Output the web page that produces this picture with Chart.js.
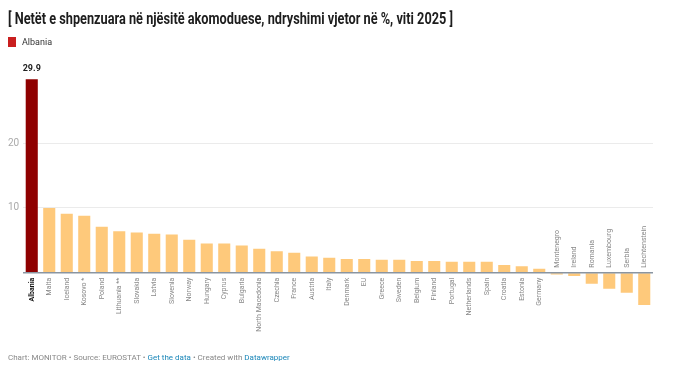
<!DOCTYPE html>
<html>
<head>
<meta charset="utf-8">
<script src="https://cdn.jsdelivr.net/npm/chart.js@4/dist/chart.umd.min.js"></script>
<style>
  html, body { margin: 0; padding: 0; background: #fff; }
  body { width: 675px; height: 376px; position: relative; overflow: hidden; font-family: Roboto, "Noto Sans", sans-serif; }
  #title { position: absolute; left: 8px; top: 8px; font-size: 17px; line-height: 20px; font-weight: 700; color: #1d1d1d; white-space: nowrap; transform-origin: 0 0; }
  #legend { position: absolute; left: 8px; top: 37px; font-size: 9px; color: #333; line-height: 10px; }
  #legend .sw { display: inline-block; width: 8px; height: 10px; background: #c91f1f; vertical-align: top; margin-right: 6px; }
  #footer { position: absolute; left: 8px; top: 353px; font-size: 8px; line-height: 10px; color: #888; white-space: nowrap; }
  #footer a { color: #1a86b8; text-decoration: none; }
  #chart { position: absolute; left: 0; top: 0; }
</style>
</head>
<body>
<canvas id="chart" width="675" height="376"></canvas>
<div id="title">[ Netët e shpenzuara në njësitë akomoduese, ndryshimi vjetor në %, viti 2025 ]</div>
<div id="legend"><span class="sw"></span>Albania</div>
<div id="footer">Chart: MONITOR • Source: EUROSTAT • <a>Get the data</a> • Created with <a>Datawrapper</a></div>
<script>
const categories = ["Albania","Malta","Iceland","Kosovo *","Poland","Lithuania **","Slovakia","Latvia","Slovenia","Norway","Hungary","Cyprus","Bulgaria","North Macedonia","Czechia","France","Austria","Italy","Denmark","EU","Greece","Sweden","Belgium","Finland","Portugal","Netherlands","Spain","Croatia","Estonia","Germany","Montenegro","Ireland","Romania","Luxembourg","Serbia","Liechtenstein"];
const values = [29.9,10.0,9.1,8.8,7.1,6.4,6.2,6.0,5.9,5.1,4.5,4.5,4.2,3.7,3.3,3.1,2.5,2.3,2.1,2.1,2.0,2.0,1.8,1.8,1.7,1.7,1.7,1.2,1.0,0.6,-0.3,-0.5,-1.7,-2.5,-3.1,-5.0];
const highlighted = ["Albania"];
const yTicks = [0, 10, 20];

// fit title width
(function(){
  const t = document.getElementById('title');
  const w = t.getBoundingClientRect().width;
  t.style.transform = 'scaleX(' + (445 / w) + ')';
})();

const labelPlugin = {
  id: 'labels',
  afterDatasetsDraw(chart) {
    const ctx = chart.ctx;
    const x = chart.scales.x, y = chart.scales.y;
    const y0 = y.getPixelForValue(0);
    // baseline
    ctx.save();
    ctx.strokeStyle = '#8a95a1';
    ctx.lineWidth = 1.5;
    ctx.beginPath();
    ctx.moveTo(chart.chartArea.left, y0);
    ctx.lineTo(chart.chartArea.right, y0);
    ctx.stroke();
    ctx.restore();
    categories.forEach((c, i) => {
      const px = x.getPixelForValue(i);
      const hi = highlighted.includes(c);
      const v = values[i];
      ctx.save();
      ctx.translate(px, v >= 0 ? y0 + 5 : y0 - 5);
      ctx.rotate(-Math.PI / 2);
      ctx.textAlign = v >= 0 ? 'right' : 'left';
      ctx.textBaseline = 'middle';
      ctx.font = (hi ? 'bold 7px' : '7px') + ' Roboto, sans-serif';
      ctx.fillStyle = hi ? '#111' : '#888';
      ctx.fillText(c, 0, 0);
      ctx.restore();
      if (hi) {
        ctx.save();
        ctx.font = 'bold 9px Roboto, sans-serif';
        ctx.fillStyle = '#222';
        ctx.textAlign = 'center';
        ctx.textBaseline = 'middle';
        ctx.fillText(v.toFixed(1), px, y.getPixelForValue(v) - 10);
        ctx.restore();
      }
    });
  }
};

new Chart(document.getElementById('chart'), {
  type: 'bar',
  data: {
    labels: categories,
    datasets: [{
      data: values,
      backgroundColor: categories.map(c => highlighted.includes(c) ? '#8f0000' : '#fec97b'),
      borderWidth: 0,
      categoryPercentage: 1,
      barPercentage: 0.69
    }]
  },
  options: {
    responsive: false,
    devicePixelRatio: 1,
    animation: false,
    layout: { padding: { left: 8, right: 22, top: 78.6, bottom: 64.5 } },
    plugins: { legend: { display: false }, tooltip: { enabled: false } },
    scales: {
      x: { display: false },
      y: {
        min: -6, max: 30,
        border: { display: false },
        grid: { color: '#ebebeb', lineWidth: 1, drawTicks: false },
        afterBuildTicks(s) { s.ticks = yTicks.map(v => ({ value: v })); },
        afterFit(s) { s.width = 15; },
        ticks: {
          crossAlign: 'far',
          padding: 0,
          color: '#aaa',
          font: { family: 'Roboto', size: 10 },
          callback: v => v === 0 ? '' : String(v)
        }
      }
    }
  },
  plugins: [labelPlugin]
});
</script>
</body>
</html>
